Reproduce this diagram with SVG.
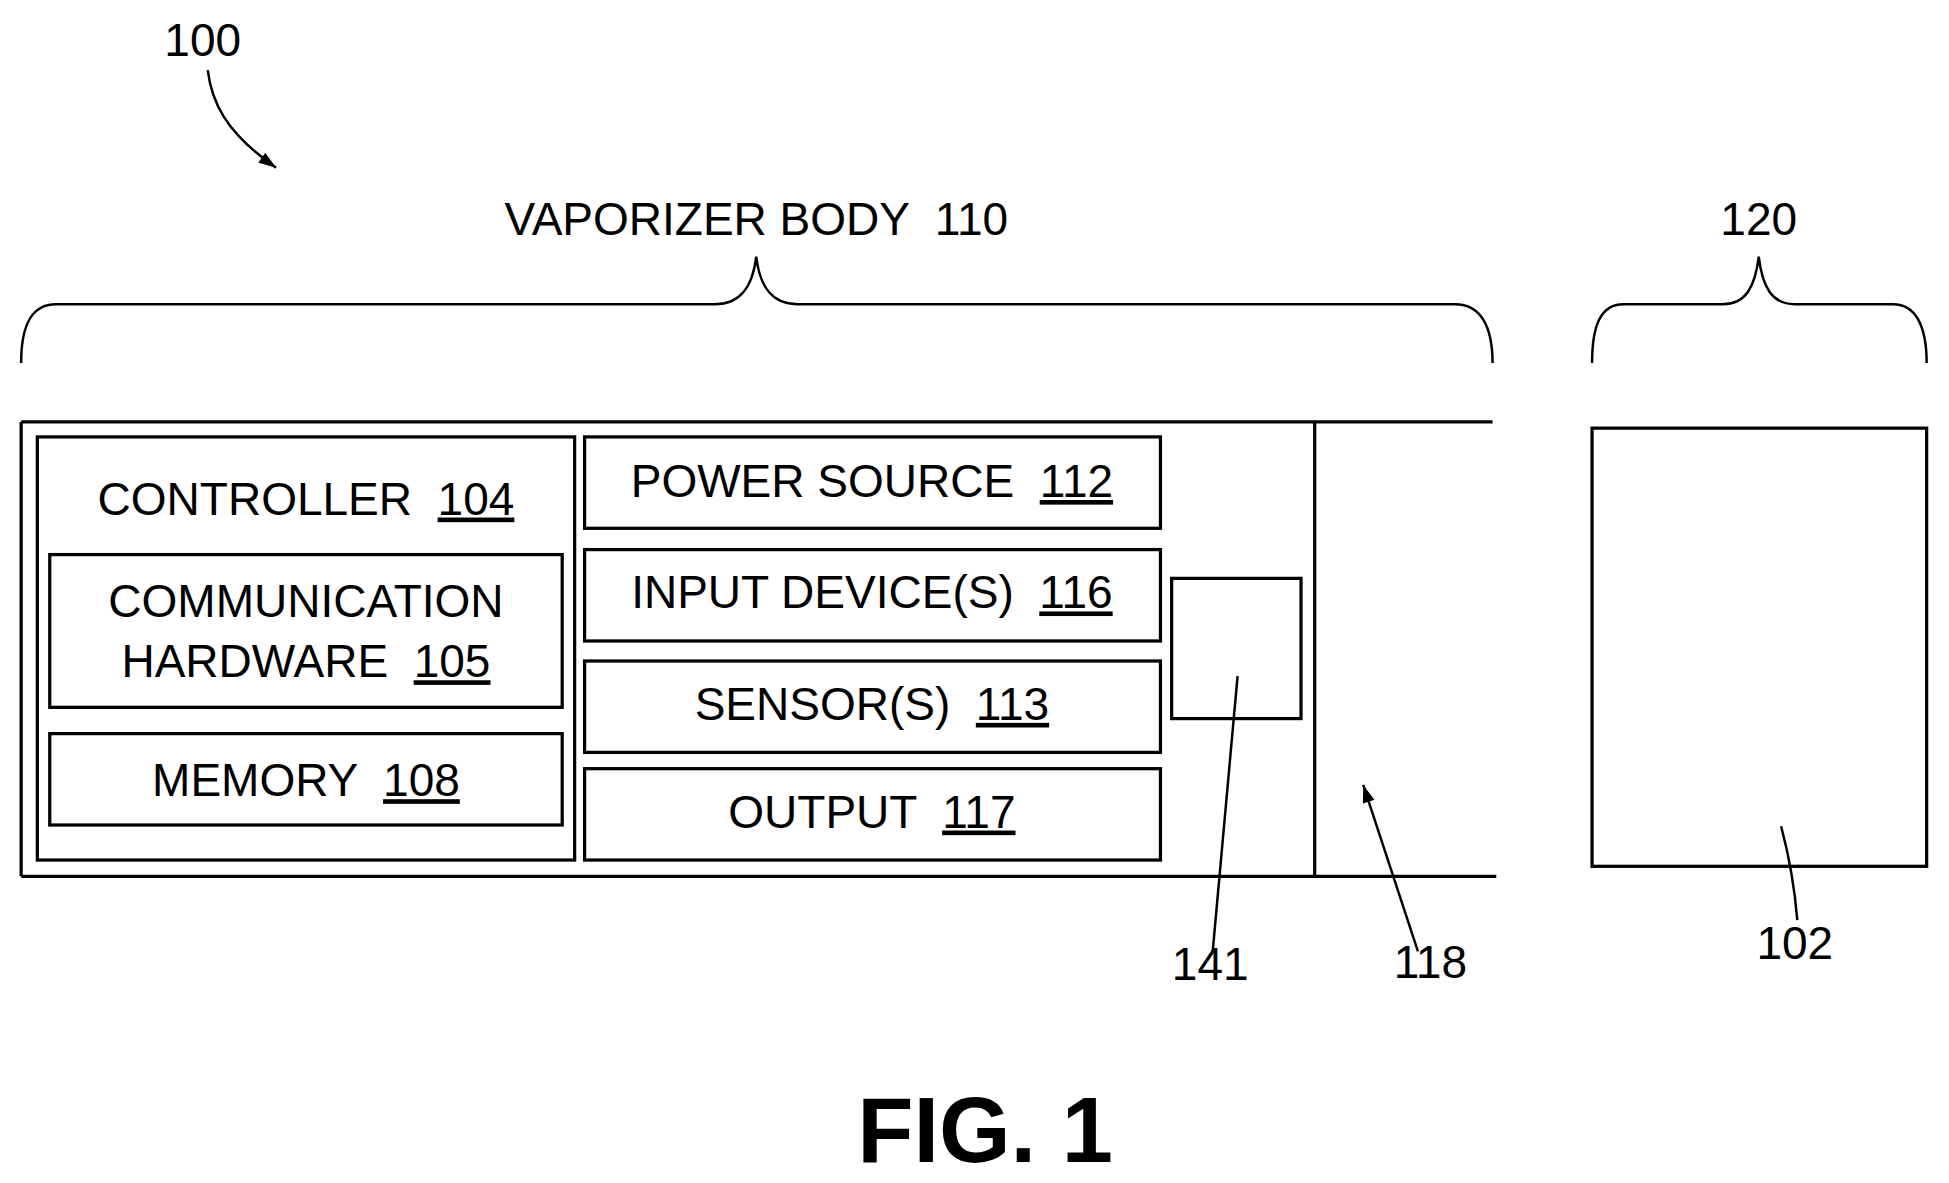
<svg xmlns="http://www.w3.org/2000/svg" width="1949" height="1183" viewBox="0 0 1949 1183">
<style>
.b{fill:none;stroke:#000;stroke-width:2.6}
.l{fill:none;stroke:#000;stroke-width:2}
text{font-family:"Liberation Sans",Arial,sans-serif;font-size:37px;fill:#000;text-anchor:middle;white-space:pre}
.u{text-decoration:underline}
</style>
<defs><marker id="ah" viewBox="0 0 10 10" refX="10" refY="5" markerWidth="20" markerHeight="14" markerUnits="userSpaceOnUse" orient="auto"><path d="M0,1.5 L10,5 L0,8.5 z" fill="#000"/></marker></defs>
<rect width="1949" height="1183" fill="#fff"/>
<g transform="scale(1.2438,1.2519)">
<g id="label100"><text x="163" y="45">100</text></g>
<g id="body110label"><text x="608" y="188" xml:space="preserve">VAPORIZER BODY  110</text></g>
<g id="label120"><text x="1414" y="188">120</text></g>
<g id="outer">
<path class="b" d="M17,337 H1200 M17,700 H1203 M17,337 V700 M1057,337 V700"/>
</g>
<g id="controller"><rect class="b" x="30" y="349" width="432" height="338"/><text x="246" y="411" xml:space="preserve">CONTROLLER  <tspan class="u">104</tspan></text></g>
<g id="comm"><rect class="b" x="40" y="443" width="412" height="122"/><text x="246" y="493">COMMUNICATION</text><text x="246" y="541" xml:space="preserve">HARDWARE  <tspan class="u">105</tspan></text></g>
<g id="memory"><rect class="b" x="40" y="586" width="412" height="73"/><text x="246" y="636" xml:space="preserve">MEMORY  <tspan class="u">108</tspan></text></g>
<g id="power"><rect class="b" x="470" y="349" width="463" height="73"/><text x="701" y="397" xml:space="preserve">POWER SOURCE  <tspan class="u">112</tspan></text></g>
<g id="input"><rect class="b" x="470" y="439" width="463" height="73"/><text x="701" y="486" xml:space="preserve">INPUT DEVICE(S)  <tspan class="u">116</tspan></text></g>
<g id="sensor"><rect class="b" x="470" y="528" width="463" height="73"/><text x="701" y="575" xml:space="preserve">SENSOR(S)  <tspan class="u">113</tspan></text></g>
<g id="output"><rect class="b" x="470" y="614" width="463" height="73"/><text x="701" y="661" xml:space="preserve">OUTPUT  <tspan class="u">117</tspan></text></g>
<g id="box141"><rect class="b" x="942" y="462" width="104" height="112"/></g>
<g id="box102"><rect class="b" x="1280" y="342" width="269" height="350"/></g>
<g id="labels">
<text x="973" y="783">141</text>
<text x="1150" y="781">118</text>
<text x="1443" y="766">102</text>
<text x="792" y="928" style="font-weight:bold;font-size:74px">FIG. 1</text>
</g>
<g id="connectors">
<path class="l" d="M17,290 C17,260 25,243 45,243 H575 C595,243 605,230 608,205 C611,230 621,243 641,243 H1170 C1190,243 1200,260 1200,290"/>
<path class="l" d="M1280,290 C1280,260 1287,243 1305,243 H1385 C1403,243 1411,230 1414,205 C1417,230 1425,243 1443,243 H1522 C1540,243 1549,260 1549,290"/>
<path class="l" d="M167,56 C170,80 180,105 222,134" marker-end="url(#ah)"/>
<path class="l" d="M995,540 L975,760"/>
<path class="l" d="M1140,760 L1096,627" marker-end="url(#ah)"/>
<path class="l" d="M1432,660 C1440,690 1443,710 1445,735"/>
</g>
</g>
</svg>
